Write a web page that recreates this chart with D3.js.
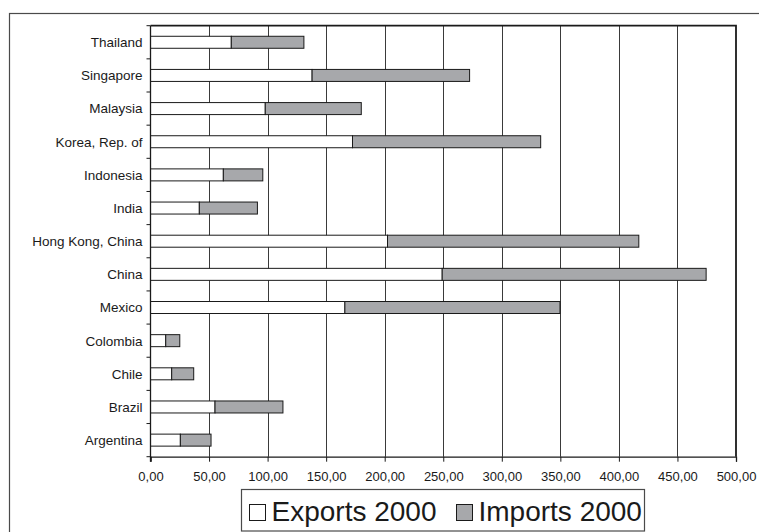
<!DOCTYPE html>
<html>
<head>
<meta charset="utf-8">
<script src="https://cdn.jsdelivr.net/npm/d3@7"></script>
<style>
  html, body { margin: 0; padding: 0; background: #fff; }
  svg { display: block; font-family: "Liberation Sans", Arial, sans-serif; }
</style>
</head>
<body>
<svg id="chart" width="759" height="532"></svg>
<script>
// Economies, listed top to bottom
const countries = ["Thailand", "Singapore", "Malaysia", "Korea, Rep. of", "Indonesia", "India",
  "Hong Kong, China", "China", "Mexico", "Colombia", "Chile", "Brazil", "Argentina"];
// Merchandise trade in 2000, billions of dollars
const exports2000 = [69.0, 138.0, 98.0, 172.5, 62.2, 41.7, 202.4, 249.1, 166.0, 13.0, 18.1, 55.1, 25.5];
const imports2000 = [62.0, 134.5, 82.0, 160.7, 33.7, 49.6, 214.6, 225.4, 183.7, 12.0, 18.8, 58.0, 26.2];
const seriesNames = ["Exports 2000", "Imports 2000"];
const xTicks = [0, 50, 100, 150, 200, 250, 300, 350, 400, 450, 500];

const svg = d3.select("#chart");
const plot = { left: 150.5, right: 736, top: 25.7, bottom: 456.7 };
const colors = ["#ffffff", "#a7a8ab"];
const barH = 12;

// outer frame (runs past the right and bottom edges)
svg.append("rect")
  .attr("x", 9.5).attr("y", 13.5).attr("width", 800).attr("height", 600)
  .attr("fill", "none").attr("stroke", "#4a4a4a").attr("stroke-width", 1.2);

const x = d3.scaleLinear().domain([0, 500]).range([plot.left, plot.right]);
const y = d3.scaleBand().domain(countries).range([plot.top, plot.bottom]).padding(0);

// vertical gridlines
svg.append("g")
  .selectAll("line")
  .data(xTicks.slice(1, -1))
  .join("line")
  .attr("x1", d => Math.round(x(d)) + 0.5).attr("x2", d => Math.round(x(d)) + 0.5)
  .attr("y1", plot.top).attr("y2", plot.bottom)
  .attr("stroke", "#3a3a3a").attr("stroke-width", 1);

// stacked bars
const rows = countries.map((c, i) => ({ c, v: [exports2000[i], imports2000[i]] }));
const stacked = d3.stack().keys([0, 1]).value((d, k) => d.v[k])(rows);

svg.append("g")
  .selectAll("g")
  .data(stacked)
  .join("g")
  .attr("fill", (d, i) => colors[i])
  .selectAll("rect")
  .data(d => d)
  .join("rect")
  .attr("x", d => x(d[0]))
  .attr("width", d => x(d[1]) - x(d[0]))
  .attr("y", d => y(d.data.c) + (y.bandwidth() - barH) / 2)
  .attr("height", barH)
  .attr("stroke", "#1a1a1a").attr("stroke-width", 1);

// plot frame: top and right edges
svg.append("path")
  .attr("d", `M${plot.left},${plot.top}H${plot.right}V${plot.bottom}`)
  .attr("fill", "none").attr("stroke", "#1a1a1a").attr("stroke-width", 1.8);

// x axis
const fmt = v => d3.format(".2f")(v).replace(".", ",");
const xAxis = svg.append("g")
  .attr("transform", `translate(0,${plot.bottom})`)
  .call(d3.axisBottom(x).tickValues(xTicks).tickFormat(fmt).tickSize(5).tickPadding(10));
xAxis.select(".domain").attr("stroke", "#1a1a1a").attr("stroke-width", 1.3);
xAxis.selectAll(".tick line").attr("stroke", "#1a1a1a");
xAxis.selectAll("text").attr("font-size", 13).attr("fill", "#1a1a1a")
  .attr("font-family", "'Liberation Sans', Arial, sans-serif");

// y axis: labels centred on bands, tick marks on band boundaries
const yAxis = svg.append("g").attr("transform", `translate(${plot.left},0)`);
yAxis.append("line")
  .attr("y1", plot.top).attr("y2", plot.bottom + 5)
  .attr("stroke", "#1a1a1a").attr("stroke-width", 1.3);
const bounds = countries.map(c => y(c)).concat([plot.bottom]);
yAxis.selectAll("line.tk")
  .data(bounds)
  .join("line").attr("class", "tk")
  .attr("x1", -4).attr("x2", 0)
  .attr("y1", d => d).attr("y2", d => d)
  .attr("stroke", "#1a1a1a");
yAxis.selectAll("text")
  .data(countries)
  .join("text")
  .attr("x", -8)
  .attr("y", d => y(d) + y.bandwidth() / 2)
  .attr("dy", "0.36em")
  .attr("text-anchor", "end")
  .attr("font-size", 13.5)
  .attr("fill", "#1a1a1a")
  .text(d => d);

// legend
const legend = svg.append("g");
legend.append("rect")
  .attr("x", 241.5).attr("y", 489.5).attr("width", 403).attr("height", 41.5)
  .attr("fill", "#fff").attr("stroke", "#4a4a4a").attr("stroke-width", 1.2);
const legX = [249.5, 456.5];
seriesNames.forEach((name, i) => {
  legend.append("rect")
    .attr("x", legX[i]).attr("y", 504.5).attr("width", 16).attr("height", 16)
    .attr("fill", colors[i]).attr("stroke", "#1a1a1a").attr("stroke-width", 1);
  legend.append("text")
    .attr("x", legX[i] + 22).attr("y", 521)
    .attr("font-size", 28).attr("fill", "#1a1a1a")
    .text(name);
});
</script>
</body>
</html>
